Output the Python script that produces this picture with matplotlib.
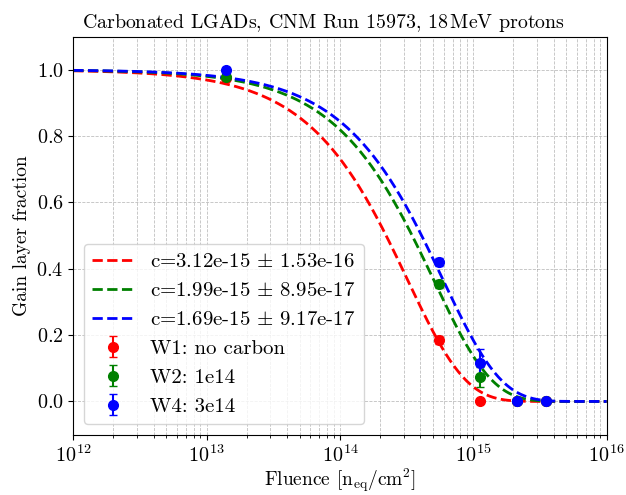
import numpy as np
import matplotlib
matplotlib.use("Agg")
import matplotlib.pyplot as plt

plt.rcParams["font.family"] = "serif"
plt.rcParams["font.serif"] = ["cmr10"]
plt.rcParams["mathtext.fontset"] = "cm"
plt.rcParams["axes.formatter.use_mathtext"] = True
plt.rcParams["font.size"] = 15

# measured gain layer fraction per wafer
fluence = [1.39e13, 5.53e14, 1.12e15, 2.12e15, 3.51e15]
labels = ["W1: no carbon", "W2: 1e14", "W4: 3e14"]
colors = ["red", "green", "blue"]
fraction = [
    [0.975, 0.184, 0.0, 0.0, 0.0],
    [0.977, 0.354, 0.074, 0.0, 0.0],
    [0.998, 0.420, 0.116, 0.0, 0.0],
]
fraction_err = [
    [0.01, 0.012, 0.005, 0.002, 0.002],
    [0.01, 0.012, 0.03, 0.002, 0.002],
    [0.01, 0.012, 0.042, 0.002, 0.002],
]
# fitted removal constants c in exp(-c * fluence)
c_fit = [3.12e-15, 1.99e-15, 1.69e-15]
c_err = ["1.53e-16", "8.95e-17", "9.17e-17"]
c_txt = ["3.12e-15", "1.99e-15", "1.69e-15"]

fig = plt.figure(figsize=(6.26, 4.95), dpi=100)
ax = fig.add_axes([0.117, 0.122, 0.852, 0.804])

phi = np.logspace(12, 16, 400)
for i in range(3):
    ax.errorbar(fluence, fraction[i], yerr=fraction_err[i], fmt="o",
                color=colors[i], markersize=7, capsize=3, label=labels[i])
    ax.plot(phi, np.exp(-c_fit[i] * phi), "--", color=colors[i], linewidth=2,
            label=f"c={c_txt[i]} $\\pm$ {c_err[i]}")

ax.set_xscale("log")
ax.set_xlim(1e12, 1e16)
ax.set_ylim(-0.1, 1.1)
ax.tick_params(labelsize=14.5)
ax.grid(True, which="both", linestyle="--", color="gray", alpha=0.5, linewidth=0.6)
ax.set_xlabel(r"Fluence [n$_{\mathrm{eq}}$/cm$^2$]", fontsize=14, labelpad=0)
ax.set_ylabel("Gain layer fraction", fontsize=14)
ax.set_title("Carbonated LGADs, CNM Run 15973, 18$\\,$MeV protons",
             fontsize=14.3, x=0.47)
ax.legend(loc="lower left", fontsize=15)

fig.savefig("out.png", dpi=100)
